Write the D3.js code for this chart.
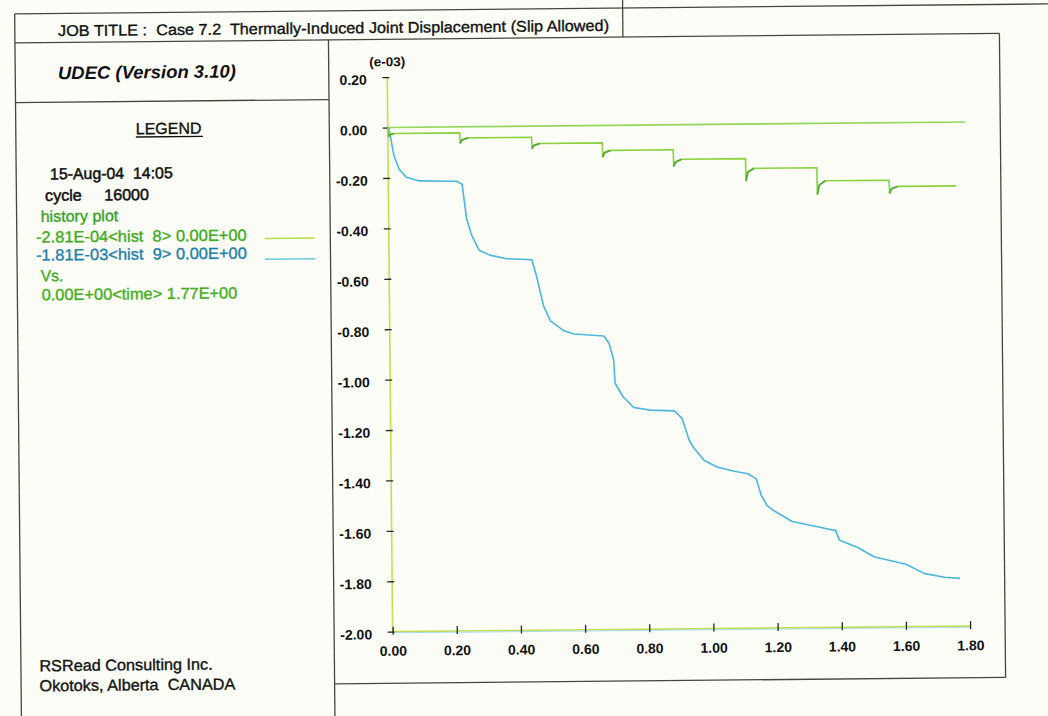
<!DOCTYPE html>
<html>
<head>
<meta charset="utf-8">
<script src="https://cdn.jsdelivr.net/npm/d3@7"></script>
<style>
  body { margin: 0; background: #fcfdf7; }
  svg { display: block; }
  text { font-family: 'Liberation Sans', Arial, sans-serif; white-space: pre; }
</style>
</head>
<body>
<script>
// axis ticks (time, displacement in e-03)
const xTicks = [0, 0.2, 0.4, 0.6, 0.8, 1.0, 1.2, 1.4, 1.6, 1.8];
const yTicks = [0.2, 0, -0.2, -0.4, -0.6, -0.8, -1.0, -1.2, -1.4, -1.6, -1.8, -2.0];

// hist 9 : [time, displacement e-03]
const hist9 = [
  [0, 0], [0.006, -0.02], [0.018, -0.11], [0.034, -0.165], [0.056, -0.198],
  [0.097, -0.213], [0.212, -0.216], [0.23, -0.228], [0.243, -0.365], [0.258, -0.43],
  [0.281, -0.49], [0.314, -0.51], [0.367, -0.525], [0.445, -0.53], [0.459, -0.594],
  [0.48, -0.713], [0.501, -0.773], [0.543, -0.813], [0.574, -0.826], [0.667, -0.835],
  [0.683, -0.864], [0.697, -0.93], [0.701, -1.023], [0.725, -1.077], [0.758, -1.12],
  [0.81, -1.131], [0.885, -1.135], [0.909, -1.166], [0.93, -1.252], [0.943, -1.28],
  [0.976, -1.333], [1.018, -1.36], [1.07, -1.377], [1.112, -1.387], [1.138, -1.408],
  [1.153, -1.474], [1.171, -1.514], [1.192, -1.535], [1.249, -1.578], [1.327, -1.6],
  [1.384, -1.616], [1.395, -1.653], [1.452, -1.684], [1.504, -1.722], [1.566, -1.741],
  [1.602, -1.752], [1.66, -1.79], [1.722, -1.805], [1.77, -1.81]
];

// hist 8 : [time, displacement e-03], each step = level end, spike, recovery, new level
const hist8 = [
  [0, 0], [0.002, -0.035], [0.008, -0.028], [0.02, -0.024],
  [0.224, -0.024], [0.225, -0.065], [0.231, -0.052], [0.25, -0.044],
  [0.448, -0.044], [0.449, -0.089], [0.455, -0.076], [0.474, -0.069],
  [0.668, -0.069], [0.669, -0.125], [0.675, -0.108], [0.694, -0.099],
  [0.889, -0.099], [0.89, -0.165], [0.896, -0.148], [0.915, -0.137],
  [1.114, -0.137], [1.115, -0.225], [1.121, -0.19], [1.14, -0.176],
  [1.336, -0.176], [1.337, -0.281], [1.343, -0.245], [1.362, -0.228],
  [1.561, -0.228], [1.562, -0.28], [1.568, -0.262], [1.587, -0.253],
  [1.77, -0.253]
];

// zero reference line
const zeroLine = [[0, 0], [1.8, 0]];

const frameColor = '#45463c';
const green = '#8bd23e';
const darkGreen = '#3c9e2a';
const blue = '#4cb6dc';
const axisColor = '#c4df4e';

const svg = d3.select('body').append('svg')
  .attr('width', 1048)
  .attr('height', 716);

svg.append('rect').attr('width', 1048).attr('height', 716).attr('fill', '#fcfdf7');

// the scanned sheet sits slightly skewed
const page = svg.append('g').attr('transform', 'rotate(-0.55 524 358)');

// frame
const frame = [
  [18, 9, 1060, 9],
  [18, 9, 18, 730],
  [626, -5, 626, 38],
  [18, 38, 1002.5, 38],
  [18, 97.7, 331.5, 97.7],
  [331.5, 38, 331.5, 730],
  [1002.5, 38, 1002.5, 682],
  [331.5, 682, 1002.5, 682]
];
page.selectAll('line.frame')
  .data(frame)
  .join('line')
  .attr('class', 'frame')
  .attr('x1', d => d[0]).attr('y1', d => d[1])
  .attr('x2', d => d[2]).attr('y2', d => d[3])
  .attr('stroke', frameColor)
  .attr('stroke-width', 1.3);

function label(x, y, str, opts = {}) {
  const fill = opts.fill || '#111';
  const t = page.append('text')
    .attr('x', x)
    .attr('y', y)
    .attr('dy', '0.35em')
    .attr('font-size', opts.size || 16)
    .attr('fill', fill)
    .attr('stroke', fill)
    .attr('stroke-width', opts.stroke == null ? 0.35 : opts.stroke)
    .text(str);
  if (opts.weight) t.attr('font-weight', opts.weight);
  if (opts.style) t.attr('font-style', opts.style);
  if (opts.width) t.attr('textLength', opts.width).attr('lengthAdjust', 'spacingAndGlyphs');
  return t;
}

label(61.2, 26.2, 'JOB TITLE :  Case 7.2  Thermally-Induced Joint Displacement (Slip Allowed)', { size: 15.5, width: 551 });
label(60.7, 68.4, 'UDEC (Version 3.10)', { size: 18, weight: 'bold', style: 'italic', width: 178, stroke: 0 });

label(138, 124.9, 'LEGEND', { width: 65.7 });
page.append('line')
  .attr('x1', 138).attr('x2', 205)
  .attr('y1', 133.3).attr('y2', 133.3)
  .attr('stroke', '#111').attr('stroke-width', 1.3);

label(51.8, 169.3, '15-Aug-04  14:05', { width: 122.7, stroke: 0.5 });
label(46.6, 190.8, 'cycle     16000', { width: 104, stroke: 0.5 });
label(42, 211.7, 'history plot', { fill: '#34a22a', width: 77.6 });
label(37.2, 232.3, '-2.81E-04<hist  8> 0.00E+00', { fill: '#3fab22', width: 210.7 });
label(37.1, 250.3, '-1.81E-03<hist  9> 0.00E+00', { fill: '#1f7ea8', width: 210.7 });
label(41.5, 271.1, 'Vs.', { fill: '#3fab22', width: 22.6 });
label(42.3, 290.1, '0.00E+00<time> 1.77E+00', { fill: '#44ae22', width: 195.6 });

page.append('line')
  .attr('x1', 266).attr('x2', 316).attr('y1', 236).attr('y2', 236)
  .attr('stroke', '#b4df48').attr('stroke-width', 1.4);
page.append('line')
  .attr('x1', 266).attr('x2', 316).attr('y1', 256.7).attr('y2', 256.7)
  .attr('stroke', '#6cc8e2').attr('stroke-width', 1.4);

label(36.4, 661, 'RSRead Consulting Inc.', { width: 173.4 });
label(36.4, 681.1, 'Okotoks, Alberta  CANADA', { width: 195.7 });

// plot
const x = d3.scaleLinear().domain([0, 1.8]).range([390, 967.5]);
const y = d3.scaleLinear().domain([-2, 0.2]).range([630.4, 75.8]);

page.append('line')
  .attr('x1', x(0)).attr('x2', x(0))
  .attr('y1', y(0.2)).attr('y2', y(-2))
  .attr('stroke', axisColor).attr('stroke-width', 1.6);
page.append('line')
  .attr('x1', x(0)).attr('x2', x(1.8))
  .attr('y1', y(-2)).attr('y2', y(-2))
  .attr('stroke', axisColor).attr('stroke-width', 1.6);
page.append('line')
  .attr('x1', x(0)).attr('x2', x(1.8))
  .attr('y1', y(-2) + 1.2).attr('y2', y(-2) + 1.2)
  .attr('stroke', '#a8dcec').attr('stroke-width', 1);

const yAxis = page.append('g')
  .attr('transform', `translate(${x(0)},0)`)
  .call(d3.axisLeft(y)
    .tickValues(yTicks)
    .tickFormat(d => d.toFixed(2))
    .tickSizeInner(5)
    .tickSizeOuter(0)
    .tickPadding(15.5));
yAxis.select('.domain').remove();
yAxis.selectAll('.tick line').attr('x1', 2).attr('stroke', '#262626').attr('stroke-width', 1.3);
yAxis.selectAll('.tick text')
  .attr('dy', '0.5em')
  .attr('font-size', 14)
  .attr('font-weight', 'bold')
  .attr('font-family', null)
  .attr('fill', '#111');

const xAxis = page.append('g')
  .attr('transform', `translate(0,${y(-2)})`)
  .call(d3.axisBottom(x)
    .tickValues(xTicks)
    .tickFormat(d => d.toFixed(2))
    .tickSizeInner(3)
    .tickSizeOuter(0)
    .tickPadding(11.2));
xAxis.select('.domain').remove();
xAxis.selectAll('.tick line').attr('y1', -5).attr('stroke', '#262626').attr('stroke-width', 1.3);
xAxis.selectAll('.tick text')
  .attr('font-size', 14)
  .attr('font-weight', 'bold')
  .attr('font-family', null)
  .attr('fill', '#111');

label(x(0) - 18, y(0.2) - 15.4, '(e-03)', { size: 13, weight: 'bold', width: 36, stroke: 0 });

const line = d3.line()
  .x(d => x(d[0]))
  .y(d => y(d[1]));

page.append('path')
  .datum(zeroLine)
  .attr('d', line)
  .attr('fill', 'none')
  .attr('stroke', '#93d65a')
  .attr('stroke-width', 1.6);

page.append('path')
  .datum(hist9)
  .attr('d', line)
  .attr('fill', 'none')
  .attr('stroke', blue)
  .attr('stroke-width', 1.6)
  .attr('stroke-linejoin', 'round');

page.append('path')
  .datum(hist8)
  .attr('d', line)
  .attr('fill', 'none')
  .attr('stroke', green)
  .attr('stroke-width', 1.6)
  .attr('stroke-linejoin', 'round');

// darker overshoot at each step
const spikes = d3.range(0, hist8.length - 1, 4).map(i => hist8.slice(i + 1, i + 4));
page.selectAll('path.spike')
  .data(spikes)
  .join('path')
  .attr('class', 'spike')
  .attr('d', line)
  .attr('fill', 'none')
  .attr('stroke', darkGreen)
  .attr('stroke-width', 1.8)
  .attr('stroke-opacity', 0.75)
  .attr('stroke-linejoin', 'round');
</script>
</body>
</html>
